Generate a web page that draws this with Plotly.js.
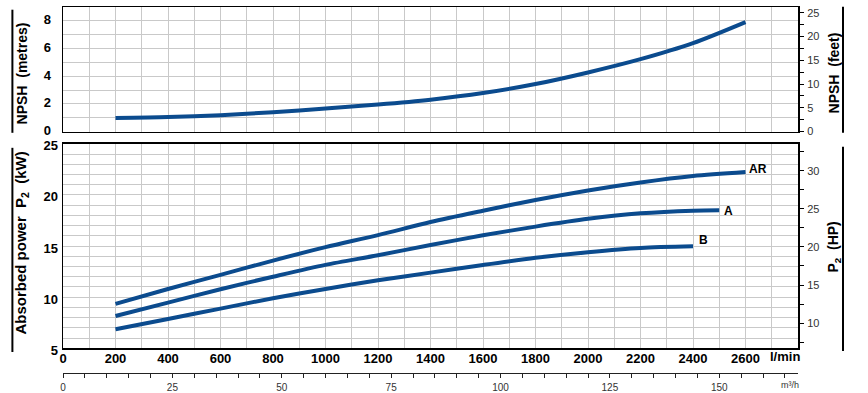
<!DOCTYPE html>
<html>
<head>
<meta charset="utf-8">
<script src="https://cdn.plot.ly/plotly-3.0.1.min.js"></script>
<style>html,body{margin:0;padding:0;background:#fff;}#chart{width:868px;height:393px;}</style>
</head>
<body>
<div id="chart"></div>
<script>
// ---- data ----
const npshFlow = [200, 400, 600, 800, 1000, 1200, 1400, 1600, 1800, 2000, 2200, 2400, 2600];
const npshMetres = [0.97, 1.04, 1.18, 1.40, 1.66, 1.95, 2.30, 2.78, 3.43, 4.27, 5.23, 6.39, 7.91];

const flowAR = [200, 400, 600, 800, 1000, 1200, 1400, 1600, 1800, 2000, 2200, 2400, 2600];
const powerAR = [9.34, 10.8, 12.18, 13.58, 14.89, 16.07, 17.35, 18.45, 19.5, 20.44, 21.22, 21.85, 22.24];

const flowA = [200, 400, 600, 800, 1000, 1200, 1400, 1600, 1800, 2000, 2200, 2400, 2500];
const powerA = [8.16, 9.47, 10.78, 12.0, 13.16, 14.1, 15.1, 16.05, 16.9, 17.66, 18.2, 18.46, 18.5];

const flowB = [200, 400, 600, 800, 1000, 1200, 1400, 1600, 1800, 2000, 2200, 2400];
const powerB = [6.86, 7.87, 8.88, 9.9, 10.8, 11.65, 12.4, 13.15, 13.85, 14.4, 14.82, 14.97];

const flowTicks = [0, 200, 400, 600, 800, 1000, 1200, 1400, 1600, 1800, 2000, 2200, 2400, 2600];
const m3hTicks = [0, 25, 50, 75, 100, 125, 150];

const curveNames = ['AR', 'A', 'B'];
const unitFlow = 'l/min';
const unitFlowM3 = 'm³/h';

// ---- geometry helpers (plot area: x 63.3..798.3, y 7.3..373) ----
const L = 63.3, R = 798.3, T = 7.3, B = 373;
const W = 868, H = 393;
const px = v => (v - L) / (R - L);
const py = v => (B - v) / (B - T);

const blue = '#0b4b8e';
const grid = '#c9c9c9';
const sans = 'Liberation Sans, Arial, sans-serif';

const lineStyle = {color: blue, width: 4, shape: 'spline', smoothing: 0.8};
const hidden = {width: 0};

const traces = [
  {x: npshFlow, y: npshMetres, xaxis: 'x', yaxis: 'y', mode: 'lines', line: lineStyle, hoverinfo: 'skip'},
  {x: flowAR, y: powerAR, xaxis: 'x2', yaxis: 'y2', mode: 'lines', line: lineStyle, hoverinfo: 'skip'},
  {x: flowA, y: powerA, xaxis: 'x2', yaxis: 'y2', mode: 'lines', line: lineStyle, hoverinfo: 'skip'},
  {x: flowB, y: powerB, xaxis: 'x2', yaxis: 'y2', mode: 'lines', line: lineStyle, hoverinfo: 'skip'},
  // invisible helpers so the secondary axes are built
  {x: npshFlow, y: npshMetres.map(v => v * 3.281), xaxis: 'x', yaxis: 'y3', mode: 'lines', line: hidden, opacity: 0, hoverinfo: 'skip'},
  {x: flowAR, y: powerAR.map(v => v / 0.7457), xaxis: 'x2', yaxis: 'y4', mode: 'lines', line: hidden, opacity: 0, hoverinfo: 'skip'},
  {x: npshFlow.map(v => v * 0.06), y: npshMetres, xaxis: 'x3', yaxis: 'y', mode: 'lines', line: hidden, opacity: 0, hoverinfo: 'skip'}
];

const boldTick = {family: sans, size: 13, color: '#000', weight: 'bold'};
const rightTick = {family: sans, size: 11, color: '#333'};

const topDomain = [py(131.7), 1];
const botDomain = [py(348.3), py(144)];

const layout = {
  width: W, height: H,
  margin: {l: L, r: W - R, t: T, b: H - B, pad: 0},
  paper_bgcolor: '#fff', plot_bgcolor: '#fff',
  showlegend: false,
  xaxis: {
    domain: [0, 1], anchor: 'y', range: [0, 2800], dtick: 100,
    showgrid: true, gridcolor: grid, gridwidth: 1, showticklabels: false, ticks: '',
    showline: true, mirror: true, linecolor: '#000', linewidth: 1.5, zeroline: false
  },
  yaxis: {
    domain: topDomain, anchor: 'x', range: [0, 9], dtick: 2, tick0: 0,
    showgrid: true, gridcolor: grid, gridwidth: 1,
    minor: {dtick: 1, showgrid: true, gridcolor: grid, gridwidth: 1},
    tickfont: boldTick, ticks: '', ticklen: 0, ticklabelstandoff: 8, ticklabelshift: -1,
    showline: true, mirror: true, linecolor: '#000', linewidth: 1.5, zeroline: false
  },
  yaxis3: {
    overlaying: 'y', side: 'right', anchor: 'x', range: [0, 26.25], dtick: 5, tick0: 0,
    showgrid: false, zeroline: false, showline: false,
    ticks: 'outside', ticklen: 5, tickcolor: '#000', tickwidth: 1,
    minor: {dtick: 2.5, ticks: 'outside', ticklen: 5, tickcolor: '#000', tickwidth: 1},
    tickfont: rightTick, ticklabelstandoff: 1
  },
  xaxis2: {
    domain: [0, 1], anchor: 'y2', range: [0, 2800], tickmode: 'array', tickvals: flowTicks,
    showgrid: true, gridcolor: grid, gridwidth: 1,
    minor: {dtick: 100, showgrid: true, gridcolor: grid, gridwidth: 1},
    tickfont: boldTick, ticks: '', ticklen: 0, ticklabelstandoff: -2,
    showline: true, mirror: true, linecolor: '#000', linewidth: 1.5, zeroline: false
  },
  yaxis2: {
    domain: botDomain, anchor: 'x2', range: [5, 25], dtick: 5, tick0: 0,
    showgrid: true, gridcolor: grid, gridwidth: 1,
    minor: {dtick: 1, showgrid: true, gridcolor: grid, gridwidth: 1},
    tickfont: boldTick, ticks: '', ticklen: 0, ticklabelstandoff: 1, ticklabelshift: 2,
    showline: true, mirror: true, linecolor: '#000', linewidth: 1.5, zeroline: false
  },
  yaxis4: {
    overlaying: 'y2', side: 'right', anchor: 'x2', range: [5 / 0.7457, 25 / 0.7457], dtick: 5, tick0: 0,
    showgrid: false, zeroline: false, showline: false,
    ticks: 'outside', ticklen: 5, tickcolor: '#000', tickwidth: 1,
    minor: {dtick: 2.5, ticks: 'outside', ticklen: 5, tickcolor: '#000', tickwidth: 1},
    tickfont: rightTick, ticklabelstandoff: 1
  },
  xaxis3: {
    overlaying: 'x', anchor: 'free', position: 0, side: 'bottom',
    range: [0, 2800 * 0.06], tickmode: 'array', tickvals: m3hTicks,
    showgrid: false, zeroline: false,
    showline: true, linecolor: '#222', linewidth: 1,
    ticks: 'outside', ticklen: 4, tickcolor: '#222', tickwidth: 1,
    minor: {dtick: 5, ticks: 'outside', ticklen: 4, tickcolor: '#222', tickwidth: 1},
    tickfont: {family: sans, size: 10, color: '#333'}, ticklabelstandoff: 1
  },
  annotations: [
    {xref: 'paper', yref: 'paper', x: px(22), y: py(74), text: 'NPSH  (metres)', textangle: -90,
     showarrow: false, xanchor: 'center', yanchor: 'middle', font: {family: sans, size: 14, weight: 'bold', color: '#000'}},
    {xref: 'paper', yref: 'paper', x: px(22), y: py(243), text: 'Absorbed power  P<sub>2</sub>  (kW)', textangle: -90,
     showarrow: false, xanchor: 'center', yanchor: 'middle', font: {family: sans, size: 15, weight: 'bold', color: '#000'}},
    {xref: 'paper', yref: 'paper', x: px(834), y: py(73), text: 'NPSH  (feet)', textangle: -90,
     showarrow: false, xanchor: 'center', yanchor: 'middle', font: {family: sans, size: 14, weight: 'bold', color: '#000'}},
    {xref: 'paper', yref: 'paper', x: px(834), y: py(247), text: 'P<sub>2</sub>  (HP)', textangle: -90,
     showarrow: false, xanchor: 'center', yanchor: 'middle', font: {family: sans, size: 14, weight: 'bold', color: '#000'}},
    {xref: 'paper', yref: 'paper', x: px(785), y: py(357), text: unitFlow,
     showarrow: false, xanchor: 'center', yanchor: 'middle', font: {family: sans, size: 13, weight: 'bold', color: '#000'}},
    {xref: 'paper', yref: 'paper', x: px(790), y: py(385), text: unitFlowM3,
     showarrow: false, xanchor: 'center', yanchor: 'middle', font: {family: sans, size: 9, color: '#333'}},
    {xref: 'x2', yref: 'y2', x: flowAR[flowAR.length - 1], y: powerAR[powerAR.length - 1], text: curveNames[0],
     showarrow: false, xanchor: 'left', yanchor: 'middle', xshift: 1, yshift: 3, font: {family: sans, size: 12, weight: 'bold', color: '#000'}},
    {xref: 'x2', yref: 'y2', x: flowA[flowA.length - 1], y: powerA[powerA.length - 1], text: curveNames[1],
     showarrow: false, xanchor: 'left', yanchor: 'middle', xshift: 3, yshift: -1, font: {family: sans, size: 12, weight: 'bold', color: '#000'}},
    {xref: 'x2', yref: 'y2', x: flowB[flowB.length - 1], y: powerB[powerB.length - 1], text: curveNames[2],
     showarrow: false, xanchor: 'left', yanchor: 'middle', xshift: 4, yshift: 6, font: {family: sans, size: 12, weight: 'bold', color: '#000'}}
  ],
  shapes: [
    {type: 'line', xref: 'paper', yref: 'paper', x0: px(12.7), x1: px(12.7), y0: py(10), y1: py(133), line: {color: '#000', width: 2}},
    {type: 'line', xref: 'paper', yref: 'paper', x0: px(12.7), x1: px(12.7), y0: py(148), y1: py(352), line: {color: '#000', width: 2}},
    {type: 'line', xref: 'paper', yref: 'paper', x0: px(843.3), x1: px(843.3), y0: py(7), y1: py(133), line: {color: '#000', width: 2}},
    {type: 'line', xref: 'paper', yref: 'paper', x0: px(843.3), x1: px(843.3), y0: py(147), y1: py(351), line: {color: '#000', width: 2}}
  ]
};

Plotly.newPlot('chart', traces, layout, {displayModeBar: false, staticPlot: true});
</script>
</body>
</html>
